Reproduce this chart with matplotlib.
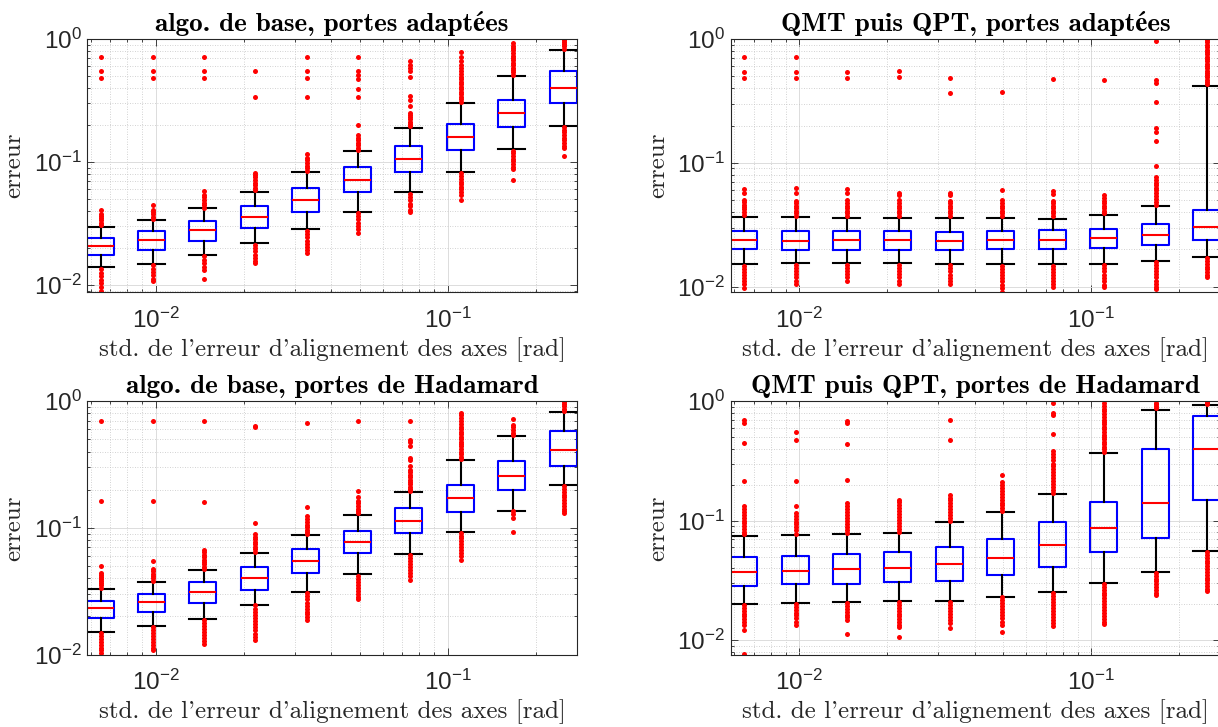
import numpy as np
import matplotlib.pyplot as plt
from matplotlib.ticker import NullFormatter

plt.rcParams['font.family'] = ['Liberation Sans', 'DejaVu Sans']

# angular misalignment std (rad), one box per value
sigma = [0.0065, 0.00975, 0.0146, 0.0219, 0.0329, 0.0494, 0.0741, 0.111, 0.167, 0.25]

# --- algo. de base, portes adaptées
tl_q1 = [0.0174, 0.0193, 0.0226, 0.0290, 0.0396, 0.0568, 0.0824, 0.125, 0.191, 0.303]
tl_med = [0.0207, 0.0232, 0.0281, 0.0360, 0.0493, 0.0710, 0.106, 0.160, 0.248, 0.403]
tl_q3 = [0.0240, 0.0273, 0.0332, 0.0437, 0.0615, 0.0910, 0.134, 0.205, 0.322, 0.554]
tl_lo = [0.0139, 0.0149, 0.0175, 0.0218, 0.0283, 0.0394, 0.0568, 0.0824, 0.127, 0.197]
tl_hi = [0.0297, 0.0339, 0.0419, 0.0575, 0.0824, 0.1226, 0.190, 0.303, 0.498, 0.809]
tl_out = [
    [0.71, 0.55, 0.48, 0.0305, 0.032, 0.0335, 0.035, 0.0365, 0.038, 0.041,
     0.0135, 0.0126, 0.0118, 0.011, 0.0103, 0.0096, 0.0089],
    [0.71, 0.55, 0.48, 0.0345, 0.036, 0.0375, 0.039, 0.041, 0.0445,
     0.0145, 0.0136, 0.0128, 0.012, 0.0113, 0.0107],
    [0.71, 0.55, 0.48, 0.0425, 0.0445, 0.0465, 0.049, 0.0515, 0.054, 0.058,
     0.0171, 0.016, 0.015, 0.0141, 0.0133, 0.0111],
    [0.55, 0.34, 0.059, 0.062, 0.065, 0.068, 0.071, 0.075, 0.079, 0.082,
     0.0213, 0.020, 0.0188, 0.0177, 0.0166, 0.0157, 0.015],
    [0.71, 0.55, 0.48, 0.34, 0.085, 0.089, 0.093, 0.098, 0.103, 0.108, 0.116,
     0.0277, 0.026, 0.0245, 0.023, 0.0216, 0.0203, 0.0192, 0.0183],
    [0.71, 0.55, 0.51, 0.47, 0.39, 0.34, 0.20, 0.125, 0.131, 0.137, 0.144, 0.151, 0.158, 0.166,
     0.0388, 0.0365, 0.0343, 0.0322, 0.0302, 0.0284, 0.0266],
    [0.66, 0.615, 0.578, 0.55, 0.495, 0.341, 0.32, 0.286,
     0.197, 0.205, 0.213, 0.222, 0.231, 0.240, 0.25,
     0.055, 0.052, 0.049, 0.046, 0.0435, 0.041, 0.039],
    [0.31, 0.325, 0.34, 0.355, 0.37, 0.39, 0.41, 0.43, 0.45, 0.47, 0.49, 0.52, 0.55, 0.58,
     0.62, 0.66, 0.72, 0.79,
     0.081, 0.077, 0.073, 0.069, 0.066, 0.063, 0.06, 0.057, 0.054, 0.0495],
    [0.51, 0.535, 0.56, 0.585, 0.61, 0.64, 0.67, 0.70, 0.73, 0.77, 0.81, 0.85, 0.88, 0.92,
     0.124, 0.118, 0.112, 0.106, 0.101, 0.096, 0.091, 0.087, 0.0715],
    [0.83, 0.87, 0.91, 0.95, 0.99,
     0.193, 0.183, 0.174, 0.166, 0.158, 0.150, 0.143, 0.136, 0.13, 0.111],
]

# --- QMT puis QPT, portes adaptées
tr_q1 = [0.0200, 0.0199, 0.0199, 0.0198, 0.0196, 0.0200, 0.0200, 0.0204, 0.0216, 0.0239]
tr_med = [0.0237, 0.0235, 0.0238, 0.0237, 0.0235, 0.0237, 0.0240, 0.0245, 0.0263, 0.0301]
tr_q3 = [0.0280, 0.0280, 0.0280, 0.0280, 0.0278, 0.0280, 0.0287, 0.0293, 0.0319, 0.0419]
tr_lo = [0.0153, 0.0154, 0.0154, 0.0154, 0.0152, 0.0151, 0.0151, 0.0152, 0.0162, 0.0175]
tr_hi = [0.0367, 0.0366, 0.0358, 0.0358, 0.0360, 0.0360, 0.0355, 0.0378, 0.0446, 0.417]
tr_out = [
    [0.71, 0.545, 0.484, 0.062, 0.0575, 0.050, 0.048, 0.046, 0.044, 0.042, 0.040, 0.038,
     0.0148, 0.014, 0.0132, 0.0125, 0.0118, 0.0112, 0.0106, 0.0097],
    [0.71, 0.545, 0.484, 0.063, 0.057, 0.049, 0.047, 0.045, 0.043, 0.041, 0.039, 0.0375,
     0.015, 0.0142, 0.0134, 0.0126, 0.0119, 0.0112, 0.0105],
    [0.545, 0.484, 0.061, 0.057, 0.050, 0.047, 0.045, 0.043, 0.041, 0.039, 0.037,
     0.015, 0.0142, 0.0134, 0.0126, 0.0119, 0.0112],
    [0.55, 0.49, 0.057, 0.055, 0.050, 0.047, 0.045, 0.043, 0.041, 0.039, 0.037,
     0.015, 0.0142, 0.0134, 0.0126, 0.0119, 0.0112, 0.0105],
    [0.485, 0.364, 0.057, 0.055, 0.049, 0.047, 0.045, 0.043, 0.041, 0.039, 0.037,
     0.0149, 0.0141, 0.0133, 0.0125, 0.0118, 0.0111, 0.0105],
    [0.375, 0.060, 0.050, 0.047, 0.045, 0.043, 0.041, 0.039, 0.037,
     0.0148, 0.014, 0.0132, 0.0125, 0.0118, 0.0111, 0.0104, 0.0098, 0.0091],
    [0.478, 0.059, 0.056, 0.049, 0.047, 0.045, 0.043, 0.041, 0.039, 0.037,
     0.0148, 0.014, 0.0132, 0.0125, 0.0118, 0.0111, 0.0105, 0.0099],
    [0.47, 0.055, 0.052, 0.049, 0.047, 0.045, 0.043, 0.041, 0.039,
     0.0149, 0.0141, 0.0133, 0.0125, 0.0118, 0.0111, 0.0104, 0.0099],
    [0.97, 0.47, 0.44, 0.31, 0.19, 0.177, 0.149, 0.095, 0.077, 0.073, 0.069, 0.066, 0.063,
     0.060, 0.057, 0.054, 0.051, 0.0485, 0.046,
     0.0159, 0.015, 0.0142, 0.0134, 0.0126, 0.0119, 0.0112, 0.0106, 0.01, 0.0095],
    [0.43, 0.45, 0.47, 0.49, 0.51, 0.53, 0.555, 0.58, 0.605, 0.63, 0.66, 0.69, 0.72, 0.75,
     0.78, 0.82, 0.86, 0.9, 0.94, 0.98,
     0.0171, 0.0162, 0.0153, 0.0145, 0.0138, 0.0131, 0.0125, 0.0119],
]

# --- algo. de base, portes de Hadamard
bl_q1 = [0.0195, 0.0217, 0.0256, 0.0325, 0.0440, 0.0629, 0.0905, 0.134, 0.200, 0.306]
bl_med = [0.0231, 0.0259, 0.0311, 0.0399, 0.0547, 0.0778, 0.114, 0.172, 0.258, 0.415]
bl_q3 = [0.0265, 0.0300, 0.0371, 0.0490, 0.0676, 0.0950, 0.143, 0.219, 0.336, 0.587]
bl_lo = [0.0151, 0.0169, 0.0191, 0.0248, 0.0311, 0.0432, 0.0625, 0.092, 0.137, 0.216]
bl_hi = [0.0330, 0.0375, 0.0464, 0.0636, 0.0878, 0.127, 0.191, 0.342, 0.535, 0.818]
bl_out = [
    [0.70, 0.162, 0.0338, 0.0352, 0.0366, 0.038, 0.0395, 0.041, 0.0425, 0.044, 0.0497,
     0.0148, 0.014, 0.0133, 0.0126, 0.0119, 0.0113, 0.0108, 0.0103],
    [0.70, 0.162, 0.0383, 0.04, 0.0418, 0.0436, 0.0455, 0.047, 0.0544,
     0.0165, 0.0156, 0.0148, 0.014, 0.0132, 0.0125, 0.0118, 0.0112, 0.0109],
    [0.70, 0.16, 0.0474, 0.0494, 0.0515, 0.0537, 0.056, 0.0585, 0.061, 0.064, 0.067,
     0.0188, 0.0178, 0.0168, 0.0159, 0.015, 0.0142, 0.0135, 0.0128, 0.0122],
    [0.64, 0.62, 0.109, 0.065, 0.068, 0.071, 0.074, 0.077, 0.081, 0.085, 0.090,
     0.0244, 0.023, 0.0218, 0.0206, 0.0195, 0.0184, 0.0174, 0.0164, 0.0155, 0.0146,
     0.0138, 0.0131],
    [0.674, 0.147, 0.089, 0.093, 0.097, 0.101, 0.106, 0.111, 0.117, 0.123,
     0.0305, 0.0288, 0.0272, 0.0257, 0.0243, 0.023, 0.0218, 0.0207, 0.0197, 0.0188],
    [0.70, 0.197, 0.130, 0.136, 0.142, 0.149, 0.156, 0.164, 0.175,
     0.042, 0.0398, 0.0377, 0.0357, 0.0338, 0.032, 0.0303, 0.0287, 0.0272],
    [0.70, 0.497, 0.48, 0.446, 0.357, 0.346, 0.31,
     0.194, 0.202, 0.211, 0.22, 0.23, 0.24, 0.251, 0.262, 0.275, 0.288,
     0.061, 0.058, 0.055, 0.052, 0.049, 0.0465, 0.044, 0.0415, 0.039],
    [0.35, 0.365, 0.38, 0.40, 0.42, 0.44, 0.46, 0.48, 0.50, 0.525, 0.55, 0.575, 0.60, 0.63,
     0.66, 0.70, 0.74, 0.78, 0.81,
     0.091, 0.087, 0.083, 0.079, 0.075, 0.071, 0.067, 0.063, 0.06, 0.056],
    [0.54, 0.565, 0.59, 0.62, 0.65, 0.73, 0.135, 0.128, 0.12, 0.092],
    [0.83, 0.87, 0.91, 0.95, 0.99,
     0.213, 0.202, 0.192, 0.183, 0.174, 0.165, 0.157, 0.149, 0.142, 0.136, 0.131],
]

# --- QMT puis QPT, portes de Hadamard
br_q1 = [0.0285, 0.0293, 0.0297, 0.0308, 0.0312, 0.0351, 0.0409, 0.0546, 0.0716, 0.148]
br_med = [0.0372, 0.0381, 0.0391, 0.0404, 0.0436, 0.0483, 0.063, 0.0874, 0.141, 0.399]
br_q3 = [0.0496, 0.0502, 0.0522, 0.0543, 0.0601, 0.0702, 0.0969, 0.144, 0.399, 0.749]
br_lo = [0.0202, 0.0206, 0.0207, 0.0212, 0.0212, 0.0231, 0.0253, 0.0300, 0.0369, 0.0553]
br_hi = [0.0749, 0.076, 0.0778, 0.0793, 0.0969, 0.119, 0.168, 0.369, 0.851, 0.926]
br_out = [
    [0.70, 0.66, 0.448, 0.213, 0.132, 0.125, 0.118, 0.112, 0.106, 0.1, 0.095, 0.09, 0.085,
     0.081, 0.077, 0.0198, 0.0187, 0.0177, 0.0167, 0.0158, 0.015, 0.0142, 0.0135, 0.0122,
     0.0076],
    [0.557, 0.477, 0.216, 0.132, 0.116, 0.11, 0.104, 0.098, 0.093, 0.088, 0.083, 0.078,
     0.0202, 0.0191, 0.018, 0.017, 0.0161, 0.0152, 0.0143, 0.0135],
    [0.68, 0.66, 0.442, 0.221, 0.141, 0.133, 0.126, 0.119, 0.112, 0.106, 0.1, 0.094, 0.089,
     0.084, 0.079, 0.0203, 0.0192, 0.0181, 0.0171, 0.0162, 0.0155, 0.0148, 0.0113],
    [0.150, 0.142, 0.134, 0.127, 0.12, 0.113, 0.107, 0.101, 0.095, 0.09, 0.085, 0.081,
     0.021, 0.0198, 0.0187, 0.0177, 0.0167, 0.0158, 0.0149, 0.0141, 0.0134, 0.013, 0.0107],
    [0.70, 0.477, 0.165, 0.156, 0.148, 0.14, 0.132, 0.125, 0.118, 0.112, 0.106, 0.1,
     0.0208, 0.0196, 0.0185, 0.0175, 0.0165, 0.0156, 0.0147, 0.0139, 0.0127],
    [0.243, 0.209, 0.198, 0.187, 0.177, 0.167, 0.158, 0.149, 0.141, 0.134, 0.127, 0.121,
     0.0228, 0.0215, 0.0203, 0.0192, 0.0181, 0.0171, 0.0161, 0.0152, 0.0143, 0.0135, 0.0116],
    [0.97, 0.80, 0.77, 0.536, 0.38, 0.36, 0.34, 0.32, 0.30, 0.285, 0.27, 0.255, 0.24, 0.228,
     0.216, 0.204, 0.192, 0.181, 0.171,
     0.0247, 0.0233, 0.022, 0.0208, 0.0196, 0.0185, 0.0175, 0.0165, 0.0156, 0.0147,
     0.0139, 0.0131],
    [0.376, 0.395, 0.415, 0.435, 0.455, 0.48, 0.50, 0.525, 0.55, 0.58, 0.61, 0.64, 0.67,
     0.70, 0.74, 0.78, 0.82, 0.86, 0.91, 0.97,
     0.0295, 0.028, 0.0265, 0.025, 0.0237, 0.0224, 0.0212, 0.02, 0.019, 0.018, 0.017,
     0.016, 0.0151, 0.0143, 0.0136],
    [0.87, 0.91, 0.95, 0.97,
     0.0364, 0.0345, 0.0327, 0.031, 0.0294, 0.0279, 0.0265, 0.025, 0.024],
    [0.94, 0.97, 0.99,
     0.0543, 0.0515, 0.0488, 0.0462, 0.0438, 0.0415, 0.0393, 0.0372, 0.0353, 0.0334,
     0.0317, 0.03, 0.0284, 0.027, 0.0256],
]

titles = ["algo. de base, portes adaptées", "QMT puis QPT, portes adaptées",
          "algo. de base, portes de Hadamard", "QMT puis QPT, portes de Hadamard"]
xlabel = "std. de l'erreur d'alignement des axes [rad]"
ylabel = "erreur"

GREY = '#262626'
SERIF = ['cmr10', 'STIXGeneral']
SERIF_BOLD = ['cmb10', 'STIXGeneral']


def draw_panel(ax, q1, med, q3, lo, hi, out, ymin, title):
    stats = [dict(q1=a, med=m, q3=b, whislo=l, whishi=h, fliers=f)
             for a, m, b, l, h, f in zip(q1, med, q3, lo, hi, out)]
    widths = [0.212 * s for s in sigma]
    ax.set_xscale('log')
    ax.set_yscale('log')
    ax.bxp(stats, positions=sigma, widths=widths, capwidths=widths,
           manage_ticks=False,
           boxprops=dict(color='blue', lw=1.5),
           medianprops=dict(color='red', lw=1.5),
           whiskerprops=dict(color='black', lw=1.5),
           capprops=dict(color='black', lw=1.5),
           flierprops=dict(marker='o', markerfacecolor='red', markeredgecolor='none',
                           markersize=3.6, linestyle='none'))
    ax.set_xlim(0.00583, 0.2767)
    ax.set_ylim(ymin, 1.0)
    ax.set_axisbelow(True)
    ax.grid(True, which='major', color='#dcdcdc', lw=0.7, ls='-')
    ax.grid(True, which='minor', color='#c4c4c4', lw=0.6, ls=(0, (1, 2)))
    ax.xaxis.set_minor_formatter(NullFormatter())
    ax.yaxis.set_minor_formatter(NullFormatter())
    ax.tick_params(which='both', direction='in', top=True, right=True,
                   color=GREY, labelcolor=GREY, labelsize=17.5, width=0.6)
    ax.tick_params(which='major', length=5)
    ax.tick_params(which='minor', length=2.5)
    ax.tick_params(axis='x', pad=11)
    ax.tick_params(axis='y', pad=4)
    for sp in ax.spines.values():
        sp.set_color(GREY)
        sp.set_linewidth(0.8)
    ax.set_title(title, family=SERIF_BOLD, fontweight='bold', fontsize=19.5,
                 pad=6, color='black')
    ax.set_xlabel(xlabel, family=SERIF, fontsize=18, color=GREY, labelpad=3)
    ax.set_ylabel(ylabel, family=SERIF, fontsize=18, color=GREY, labelpad=6)


fig = plt.figure(figsize=(12.18, 7.27), dpi=100)
W, H = 1218.0, 727.0
aw, ah = 489.4 / W, 253.3 / H
ax_tl = fig.add_axes([87.3 / W, 1 - 292.3 / H, aw, ah])
ax_tr = fig.add_axes([730.7 / W, 1 - 292.3 / H, aw, ah])
ax_bl = fig.add_axes([87.3 / W, 1 - 654.5 / H, aw, ah])
ax_br = fig.add_axes([730.7 / W, 1 - 654.5 / H, aw, ah])

draw_panel(ax_tl, tl_q1, tl_med, tl_q3, tl_lo, tl_hi, tl_out, 0.00873, titles[0])
draw_panel(ax_tr, tr_q1, tr_med, tr_q3, tr_lo, tr_hi, tr_out, 0.0090, titles[1])
draw_panel(ax_bl, bl_q1, bl_med, bl_q3, bl_lo, bl_hi, bl_out, 0.0100, titles[2])
draw_panel(ax_br, br_q1, br_med, br_q3, br_lo, br_hi, br_out, 0.00758, titles[3])

fig.savefig('out.png', dpi=100)
